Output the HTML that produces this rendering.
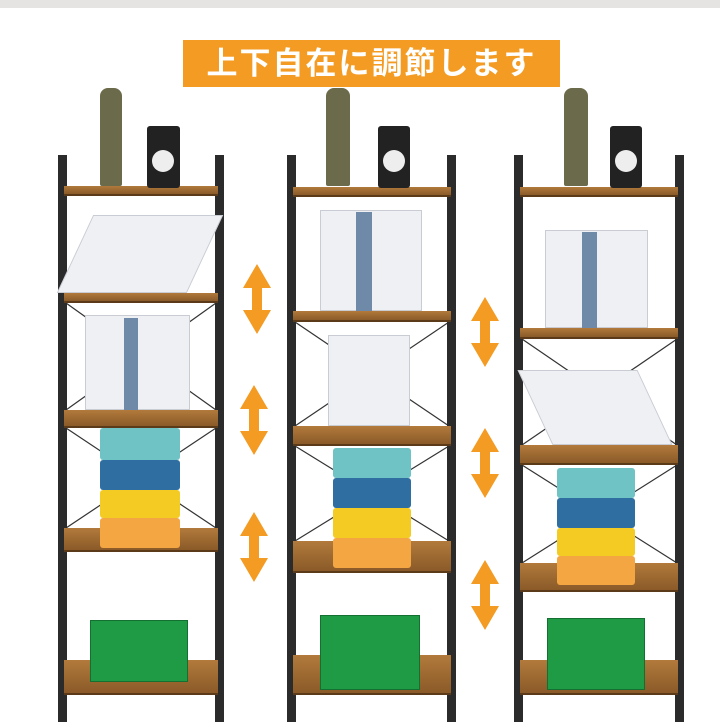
<!DOCTYPE html><html><head><meta charset="utf-8"><style>
body{margin:0;width:720px;height:722px;background:#fff;position:relative;overflow:hidden;font-family:"Liberation Sans","Noto Sans CJK JP",sans-serif}
div{position:absolute;box-sizing:border-box}
.p{background:#2b2b2b}
.b{background:linear-gradient(#b27a3c,#8a5a28);border-bottom:2px solid #5a3a18}
.bk{background:#eef0f4;border:1px solid #c9ccd3}
.g{background:#1f9a45;border:1px solid #137030}
</style></head><body>
<div style="left:0;top:0;width:720px;height:8px;background:#e6e4e2"></div>
<div style="left:183px;top:40px;width:377px;height:47px;background:#f39b22;color:#fff;font-size:31px;text-align:center;line-height:47px;letter-spacing:2px;font-weight:bold">上下自在に調節します</div>

<svg style="position:absolute;left:0;top:0" width="720" height="722" stroke="#333" stroke-width="1.2">
<line x1="66" y1="303" x2="216" y2="410"/><line x1="216" y1="303" x2="66" y2="410"/>
<line x1="66" y1="428" x2="216" y2="528"/><line x1="216" y1="428" x2="66" y2="528"/>
<line x1="295" y1="322" x2="449" y2="426"/><line x1="449" y1="322" x2="295" y2="426"/>
<line x1="295" y1="446" x2="449" y2="541"/><line x1="449" y1="446" x2="295" y2="541"/>
<line x1="522" y1="339" x2="677" y2="445"/><line x1="677" y1="339" x2="522" y2="445"/>
<line x1="522" y1="465" x2="677" y2="563"/><line x1="677" y1="465" x2="522" y2="563"/>
</svg>

<!-- left -->
<div class="p" style="left:58px;top:155px;width:9px;height:567px"></div>
<div class="p" style="left:215px;top:155px;width:9px;height:567px"></div>
<div class="b" style="left:64px;top:186px;width:154px;height:10px"></div>
<div class="b" style="left:64px;top:293px;width:154px;height:10px"></div>
<div class="b" style="left:64px;top:410px;width:154px;height:18px"></div>
<div class="b" style="left:64px;top:528px;width:154px;height:24px"></div>
<div class="b" style="left:64px;top:660px;width:154px;height:35px"></div>
<div class="bk" style="left:75px;top:215px;width:130px;height:78px;transform:skewX(-25deg)"></div>
<div class="bk" style="left:85px;top:315px;width:105px;height:95px"></div>
<div style="left:124px;top:318px;width:14px;height:92px;background:#6e8aa8"></div>
<div style="left:100px;top:428px;width:80px;height:32px;background:#6fc3c4;border-radius:3px"></div>
<div style="left:100px;top:460px;width:80px;height:30px;background:#2f6ea0;border-radius:3px"></div>
<div style="left:100px;top:490px;width:80px;height:28px;background:#f4cb22;border-radius:3px"></div>
<div style="left:100px;top:518px;width:80px;height:30px;background:#f3a642;border-radius:3px"></div>
<div class="g" style="left:90px;top:620px;width:98px;height:62px"></div>
<div style="left:100px;top:88px;width:22px;height:98px;background:#6b6a4a;border-radius:8px 8px 2px 2px"></div>
<div style="left:147px;top:126px;width:33px;height:62px;background:#222;border-radius:3px"></div>
<div style="left:152px;top:150px;width:22px;height:22px;background:#eee;border-radius:50%"></div>

<!-- middle -->
<div class="p" style="left:287px;top:155px;width:9px;height:567px"></div>
<div class="p" style="left:447px;top:155px;width:9px;height:567px"></div>
<div class="b" style="left:293px;top:187px;width:158px;height:10px"></div>
<div class="b" style="left:293px;top:311px;width:158px;height:11px"></div>
<div class="b" style="left:293px;top:426px;width:158px;height:20px"></div>
<div class="b" style="left:293px;top:541px;width:158px;height:32px"></div>
<div class="b" style="left:293px;top:655px;width:158px;height:40px"></div>
<div class="bk" style="left:320px;top:210px;width:102px;height:101px"></div>
<div style="left:356px;top:212px;width:16px;height:99px;background:#6e8aa8"></div>
<div class="bk" style="left:328px;top:335px;width:82px;height:91px"></div>
<div style="left:333px;top:448px;width:78px;height:30px;background:#6fc3c4;border-radius:3px"></div>
<div style="left:333px;top:478px;width:78px;height:30px;background:#2f6ea0;border-radius:3px"></div>
<div style="left:333px;top:508px;width:78px;height:30px;background:#f4cb22;border-radius:3px"></div>
<div style="left:333px;top:538px;width:78px;height:30px;background:#f3a642;border-radius:3px"></div>
<div class="g" style="left:320px;top:615px;width:100px;height:75px"></div>
<div style="left:326px;top:88px;width:24px;height:98px;background:#6b6a4a;border-radius:8px 8px 2px 2px"></div>
<div style="left:378px;top:126px;width:32px;height:62px;background:#222;border-radius:3px"></div>
<div style="left:383px;top:150px;width:22px;height:22px;background:#eee;border-radius:50%"></div>

<!-- right -->
<div class="p" style="left:514px;top:155px;width:9px;height:567px"></div>
<div class="p" style="left:675px;top:155px;width:9px;height:567px"></div>
<div class="b" style="left:520px;top:187px;width:158px;height:10px"></div>
<div class="b" style="left:520px;top:328px;width:158px;height:11px"></div>
<div class="b" style="left:520px;top:445px;width:158px;height:20px"></div>
<div class="b" style="left:520px;top:563px;width:158px;height:29px"></div>
<div class="b" style="left:520px;top:660px;width:158px;height:35px"></div>
<div class="bk" style="left:545px;top:230px;width:103px;height:98px"></div>
<div style="left:582px;top:232px;width:15px;height:96px;background:#6e8aa8"></div>
<div class="bk" style="left:535px;top:370px;width:120px;height:75px;transform:skewX(25deg)"></div>
<div style="left:557px;top:468px;width:78px;height:30px;background:#6fc3c4;border-radius:3px"></div>
<div style="left:557px;top:498px;width:78px;height:30px;background:#2f6ea0;border-radius:3px"></div>
<div style="left:557px;top:528px;width:78px;height:28px;background:#f4cb22;border-radius:3px"></div>
<div style="left:557px;top:556px;width:78px;height:29px;background:#f3a642;border-radius:3px"></div>
<div class="g" style="left:547px;top:618px;width:98px;height:72px"></div>
<div style="left:564px;top:88px;width:24px;height:98px;background:#6b6a4a;border-radius:8px 8px 2px 2px"></div>
<div style="left:610px;top:126px;width:32px;height:62px;background:#222;border-radius:3px"></div>
<div style="left:615px;top:150px;width:22px;height:22px;background:#eee;border-radius:50%"></div>

<svg style="position:absolute;left:0;top:0" width="720" height="722">
<defs><path id="a" d="M0,0 L14,24 L5,24 L5,46 L14,46 L0,70 L-14,46 L-5,46 L-5,24 L-14,24 Z" fill="#f39b22"/></defs>
<use href="#a" x="257" y="264"/><use href="#a" x="254" y="385"/><use href="#a" x="254" y="512"/>
<use href="#a" x="485" y="297"/><use href="#a" x="485" y="428"/><use href="#a" x="485" y="560"/>
</svg>
</body></html>
